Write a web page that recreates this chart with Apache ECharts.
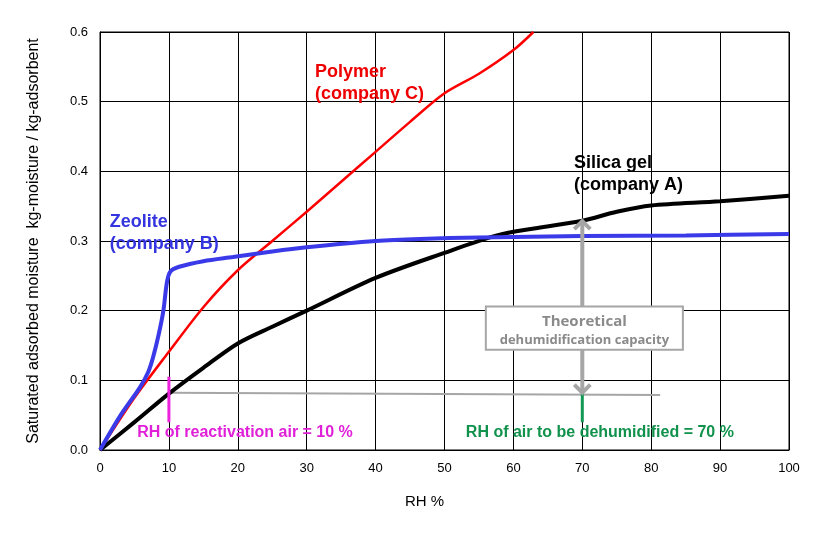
<!DOCTYPE html>
<html>
<head>
<meta charset="utf-8">
<script src="https://cdn.jsdelivr.net/npm/echarts@6/dist/echarts.min.js"></script>
<style>
  html, body { margin: 0; padding: 0; background: #fff; }
  #chart { width: 838px; height: 536px; }
</style>
</head>
<body>
<div id="chart"></div>
<script>
// RH % / adsorbed moisture
var silicaRH  = [0, 5, 10, 15, 20, 25, 30, 40, 50, 57.6, 63, 70, 75, 80, 90, 100];
var silicaVal = [0, 0.04, 0.081, 0.118, 0.153, 0.177, 0.2, 0.247, 0.283, 0.308, 0.318, 0.329, 0.342, 0.351, 0.357, 0.365];

var zeoliteRH  = [0, 3, 5.8, 7, 7.7, 8.5, 9.2, 9.7, 10.2, 11.5, 15, 19.3, 25, 30, 40, 46.4, 55, 70, 85, 100];
var zeoliteVal = [0, 0.05, 0.09, 0.112, 0.133, 0.165, 0.2, 0.24, 0.256, 0.263, 0.271, 0.277, 0.285, 0.291, 0.3, 0.303, 0.305, 0.307, 0.308, 0.31];

var polymerRH  = [0, 5, 10, 15, 20, 25, 30, 35, 40, 45, 50, 55, 60, 62.9];
var polymerVal = [0, 0.075, 0.141, 0.205, 0.258, 0.3, 0.342, 0.385, 0.428, 0.471, 0.512, 0.54, 0.574, 0.6];

var xTicks = [0, 10, 20, 30, 40, 50, 60, 70, 80, 90, 100];
var yTicks = [0, 0.1, 0.2, 0.3, 0.4, 0.5, 0.6];

// annotation anchors in data units
var reactivationRH = 10;
var processRH = 70;
var baseLine = [[10, 0.082], [81.3, 0.079]];
var arrowTop = 0.33;
var arrowBottom = 0.081;
var boxCorners = [[56, 0.206], [84.6, 0.144]];

function pairs(xs, ys) {
    return xs.map(function (x, i) { return [x, ys[i]]; });
}

var chart = echarts.init(document.getElementById('chart'));
var font = 'Liberation Sans, Arial, sans-serif';

function textPoint(name, pos, text, color, size, vAlign) {
    return {
        name: name,
        type: 'scatter',
        data: [pos],
        symbolSize: 0,
        silent: true,
        z: 5,
        itemStyle: { opacity: 1 },
        label: {
            show: true,
            position: [0, 0],
            align: 'left',
            verticalAlign: vAlign || 'top',
            formatter: text,
            color: color,
            opacity: 1,
            textBorderWidth: 0,
            fontFamily: font,
            fontWeight: 'bold',
            fontSize: size,
            lineHeight: size + 4
        }
    };
}

var option = {
    animation: false,
    backgroundColor: '#fff',
    grid: {
        left: 100, right: 49, top: 32, bottom: 86,
        show: true, borderColor: '#000', borderWidth: 1
    },
    xAxis: {
        type: 'value',
        min: 0, max: 100, interval: 10,
        name: 'RH %',
        nameLocation: 'middle',
        nameGap: 44,
        nameTextStyle: { fontFamily: font, fontSize: 15, color: '#000', padding: [0, 40, 0, 0] },
        axisLine: { lineStyle: { color: '#000', width: 1 } },
        axisTick: { show: false },
        axisLabel: { fontFamily: font, fontSize: 13, color: '#000', margin: 12 },
        splitLine: { lineStyle: { color: '#000', width: 1 } }
    },
    yAxis: {
        type: 'value',
        min: 0, max: 0.6, interval: 0.1,
        name: 'Saturated adsorbed moisture  kg-moisture / kg-adsorbent',
        nameLocation: 'middle',
        nameGap: 58,
        nameTextStyle: { fontFamily: font, fontSize: 16, color: '#000' },
        axisLine: { lineStyle: { color: '#000', width: 1 } },
        axisTick: { show: false },
        axisLabel: {
            fontFamily: font, fontSize: 13, color: '#000', margin: 12,
            formatter: function (v) { return v.toFixed(1); }
        },
        splitLine: { lineStyle: { color: '#000', width: 1 } }
    },
    series: [
        {
            name: 'guide',
            type: 'line',
            data: baseLine,
            symbol: 'none',
            silent: true,
            lineStyle: { color: '#a6a6a6', width: 2 },
            z: 2
        },
        {
            name: 'Polymer',
            type: 'line',
            data: pairs(polymerRH, polymerVal),
            symbol: 'none',
            smooth: 0.3,
            lineStyle: { color: '#f00', width: 2.5 },
            z: 3
        },
        {
            name: 'Silica gel',
            type: 'line',
            data: pairs(silicaRH, silicaVal),
            symbol: 'none',
            smooth: 0.3,
            lineStyle: { color: '#000', width: 4 },
            z: 3
        },
        {
            name: 'Zeolite',
            type: 'line',
            data: pairs(zeoliteRH, zeoliteVal),
            symbol: 'none',
            smooth: 0.3,
            lineStyle: { color: '#3a3ae8', width: 4 },
            z: 4
        },
        {
            name: 'reactivation mark',
            type: 'line',
            data: [[reactivationRH, 0.105], [reactivationRH, 0.04]],
            symbol: 'none',
            silent: true,
            lineStyle: { color: '#ee22dd', width: 3 },
            z: 4
        },
        {
            name: 'process mark',
            type: 'line',
            data: [[processRH, 0.082], [processRH, 0.04]],
            symbol: 'none',
            silent: true,
            lineStyle: { color: '#119955', width: 3 },
            z: 4
        },
        textPoint('polymer label', [31.2, 0.558], 'Polymer\n(company C)', '#e00', 18),
        textPoint('zeolite label', [1.4, 0.343], 'Zeolite\n(company B)', '#3535e0', 18),
        textPoint('silica label', [68.8, 0.428], 'Silica gel\n(company A)', '#000', 18),
        textPoint('reactivation label', [5.4, 0.0244], 'RH of reactivation air = 10 %', '#e020d8', 16, 'middle'),
        textPoint('process label', [53.1, 0.0244], 'RH of air to be dehumidified = 70 %', '#10914c', 16, 'middle')
    ]
};

chart.setOption(option);

// arrow and the capacity box, placed from data units
var arrowUp = chart.convertToPixel({ gridIndex: 0 }, [processRH, arrowTop]);
var arrowDown = chart.convertToPixel({ gridIndex: 0 }, [processRH, arrowBottom]);
var b1 = chart.convertToPixel({ gridIndex: 0 }, boxCorners[0]);
var b2 = chart.convertToPixel({ gridIndex: 0 }, boxCorners[1]);
var grey = '#a6a6a6';
var head = 8;

chart.setOption({
    graphic: [
        {
            type: 'line', z: 10,
            shape: { x1: arrowUp[0], y1: arrowUp[1] + 1, x2: arrowDown[0], y2: arrowDown[1] - 1 },
            style: { stroke: grey, lineWidth: 4 }
        },
        {
            type: 'polyline', z: 10,
            shape: { points: [[arrowUp[0] - head, arrowUp[1] + head + 1], [arrowUp[0], arrowUp[1] + 1], [arrowUp[0] + head, arrowUp[1] + head + 1]] },
            style: { stroke: grey, lineWidth: 4, fill: null }
        },
        {
            type: 'polyline', z: 10,
            shape: { points: [[arrowDown[0] - head, arrowDown[1] - head - 1], [arrowDown[0], arrowDown[1] - 1], [arrowDown[0] + head, arrowDown[1] - head - 1]] },
            style: { stroke: grey, lineWidth: 4, fill: null }
        },
        {
            type: 'rect', z: 11,
            shape: { x: b1[0], y: b1[1], width: b2[0] - b1[0], height: b2[1] - b1[1] },
            style: { fill: '#fff', stroke: grey, lineWidth: 2 }
        },
        {
            type: 'text', z: 12,
            x: (b1[0] + b2[0]) / 2, y: b1[1] + 15,
            style: {
                text: 'Theoretical', fill: '#8a8a8a', fontFamily: 'Open Sans, sans-serif',
                fontWeight: 'bold', fontSize: 15, align: 'center', verticalAlign: 'middle'
            }
        },
        {
            type: 'text', z: 12,
            x: (b1[0] + b2[0]) / 2, y: b1[1] + 34,
            style: {
                text: 'dehumidification capacity', fill: '#8a8a8a', fontFamily: 'Open Sans, sans-serif',
                fontWeight: 'bold', fontSize: 13, align: 'center', verticalAlign: 'middle'
            }
        }
    ]
});
</script>
</body>
</html>
